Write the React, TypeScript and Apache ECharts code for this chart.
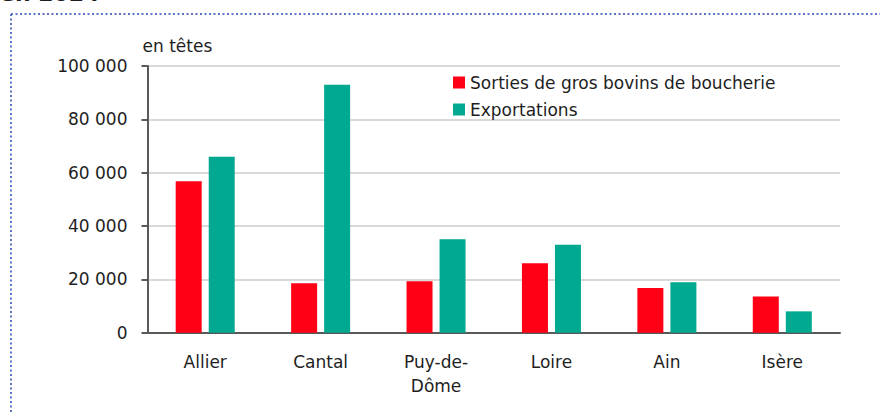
import React, { useEffect, useRef } from "react";
import * as echarts from "echarts";

const categories = ["Allier", "Cantal", "Puy-de-Dôme", "Loire", "Ain", "Isère"];
const sorties = [56800, 18500, 19300, 26000, 16800, 13600];
const exportations = [66000, 93000, 35000, 33000, 18900, 8000];
const seriesNames = ["Sorties de gros bovins de boucherie", "Exportations"];
const yTicks = { min: 0, max: 100000, interval: 20000 };
const unitLabel = "en têtes";
const titleText = "en 2024";

const FONT = "'DejaVu Sans', 'Open Sans', sans-serif";
const FS = 17;

export default function App() {
  const ref = useRef<HTMLDivElement>(null);
  useEffect(() => {
    document.body.style.margin = "0";
    const chart = echarts.init(ref.current!, null, { renderer: "svg" });
    chart.setOption({
      animation: false,
      backgroundColor: "#ffffff",
      textStyle: { fontFamily: FONT },
      grid: { left: 147.5, right: 40, top: 66, bottom: 79.3, containLabel: false },
      legend: {
        orient: "vertical",
        left: 448,
        top: 69,
        itemWidth: 12,
        itemHeight: 12,
        itemGap: 10,
        icon: "rect",
        textStyle: { fontSize: FS, color: "#1e1e1e", fontFamily: FONT, lineHeight: 17 },
        data: seriesNames,
      },
      xAxis: {
        type: "category",
        data: categories,
        axisLine: { lineStyle: { color: "#595959", width: 2 } },
        axisTick: { show: false },
        axisLabel: {
          fontSize: FS,
          color: "#1e1e1e",
          margin: 17,
          lineHeight: 24,
          interval: 0,
          formatter: (v: string) => v.replace("Puy-de-", "Puy-de-\n"),
        },
      },
      yAxis: {
        type: "value",
        min: yTicks.min,
        max: yTicks.max,
        interval: yTicks.interval,
        name: unitLabel,
        nameLocation: "end",
        nameGap: 12,
        nameTextStyle: { fontSize: FS, color: "#1e1e1e", align: "left", padding: [0, 0, 0, -5] },
        axisLine: { show: true, lineStyle: { color: "#595959", width: 2 } },
        axisTick: { show: true, length: 6, lineStyle: { color: "#595959", width: 2 } },
        axisLabel: {
          fontSize: FS,
          color: "#1e1e1e",
          margin: 20,
          formatter: (v: number) => v.toLocaleString("fr-FR").replace(/\s/g, " "),
        },
        splitLine: { lineStyle: { color: "#d9d9d9", width: 2 } },
      },
      series: [
        {
          name: seriesNames[0],
          type: "bar",
          data: sorties,
          barWidth: 26,
          barGap: "27%",
          itemStyle: { color: "#ff0015" },
        },
        {
          name: seriesNames[1],
          type: "bar",
          data: exportations,
          barWidth: 26,
          itemStyle: { color: "#00a98f" },
        },
      ],
      graphic: [
        {
          type: "text",
          left: 0,
          top: -18,
          style: { text: titleText, fontSize: 22, fontWeight: "bold", fill: "#1e1e1e", fontFamily: FONT },
        },
        {
          type: "line",
          shape: { x1: 11, y1: 14, x2: 880, y2: 14 },
          style: { stroke: "#5b73c8", lineWidth: 2, lineDash: [2, 2.5] },
        },
        {
          type: "line",
          shape: { x1: 11, y1: 14, x2: 11, y2: 412 },
          style: { stroke: "#5b73c8", lineWidth: 2, lineDash: [2, 2.5] },
        },
      ],
    });
    return () => chart.dispose();
  }, []);
  return <div ref={ref} style={{ width: 880, height: 412 }} />;
}
